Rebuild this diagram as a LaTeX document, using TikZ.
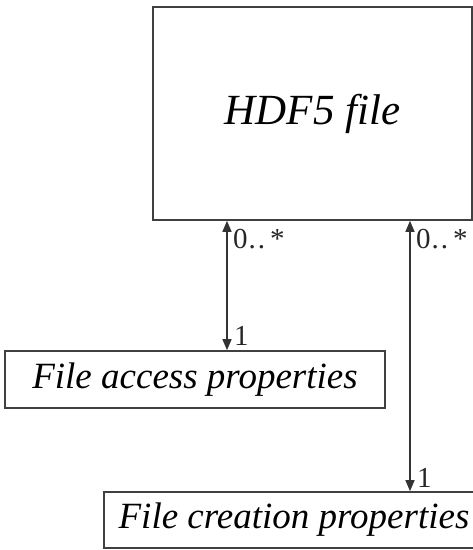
\documentclass[tikz,border=0pt]{standalone}
\usepackage{fontspec}
\setmainfont{Liberation Serif}
\usetikzlibrary{arrows.meta}
\begin{document}
\begin{tikzpicture}[x=1pt,y=-1pt,
  box/.style={draw=black!75,line width=1.6pt,inner sep=0pt,align=center,font=\itshape},
  arr/.style={draw=black!80,line width=1.4pt,{Triangle[length=11pt,width=9pt]}-{Triangle[length=11pt,width=9pt]}},
  mult/.style={inner sep=0pt,font=\fontsize{29}{31}\selectfont,text=black!85}]
\useasboundingbox (0,0) rectangle (473,550);
\node[box,minimum width=319pt,minimum height=213pt,font=\itshape\fontsize{43}{48}\selectfont] (hdf) at (312.5,113.5) {HDF5 file};
\node[box,minimum width=380pt,minimum height=57pt,font=\itshape\fontsize{37}{42}\selectfont] (acc) at (195,379.5) {File access properties};
\node[box,minimum width=374pt,minimum height=56pt,font=\itshape\fontsize{37}{42}\selectfont] (cre) at (291,520) {\hspace*{6pt}File creation properties};
\coordinate (x1) at (227,0);
\coordinate (x2) at (410,0);
\draw[arr] (hdf.south -| x1) -- (acc.north -| x1);
\draw[arr] (hdf.south -| x2) -- (cre.north -| x2);
\node[mult,anchor=north west] (m1) at (233,229) {0\kern1pt.\kern2pt.\kern5pt*};
\node[mult,anchor=south west] (o1) at (234,346) {1};
\node[mult,anchor=north west] (m2) at (416,229) {0\kern1pt.\kern2pt.\kern5pt*};
\node[mult,anchor=south west] (o2) at (417,488) {1};
\end{tikzpicture}
\end{document}
